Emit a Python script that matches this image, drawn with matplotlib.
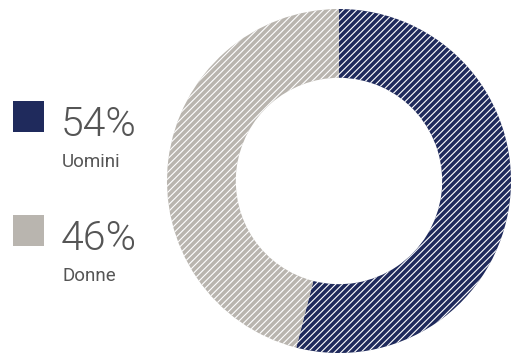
import matplotlib.pyplot as plt
from matplotlib.patches import Rectangle

labels = ["Uomini", "Donne"]
values = [54, 46]
colors = ["#1f2a5c", "#b9b5af"]

W, H = 513, 358
plt.rcParams['hatch.color'] = 'white'
plt.rcParams['hatch.linewidth'] = 0.8

fig = plt.figure(figsize=(W / 100, H / 100), dpi=100)

# ciambella
cx, cy, r = 339, 181, 172
ax = fig.add_axes([(cx - r) / W, (H - cy - r) / H, 2 * r / W, 2 * r / H])
wedges, _ = ax.pie(values, colors=colors, startangle=90, counterclock=False,
                   radius=1, wedgeprops=dict(width=0.4, linewidth=0, hatch='/////'))
ax.set_xlim(-1, 1)
ax.set_ylim(-1, 1)
ax.axis('off')

# legenda
ys = [101, 215]
for y, lab, val, col in zip(ys, labels, values, colors):
    fig.patches.append(Rectangle((13 / W, 1 - (y + 31) / H), 31 / W, 31 / H,
                                 transform=fig.transFigure, facecolor=col,
                                 edgecolor='none'))
    fig.text(61 / W, 1 - (y + 35) / H, f"{val}%", fontsize=29.5, color="#555555",
             family="Roboto", weight=300, va="baseline")
    fig.text(62 / W, 1 - (y + 66) / H, lab, fontsize=13.5, color="#555555",
             family="Roboto", va="baseline")

fig.savefig("out.png", dpi=100)
